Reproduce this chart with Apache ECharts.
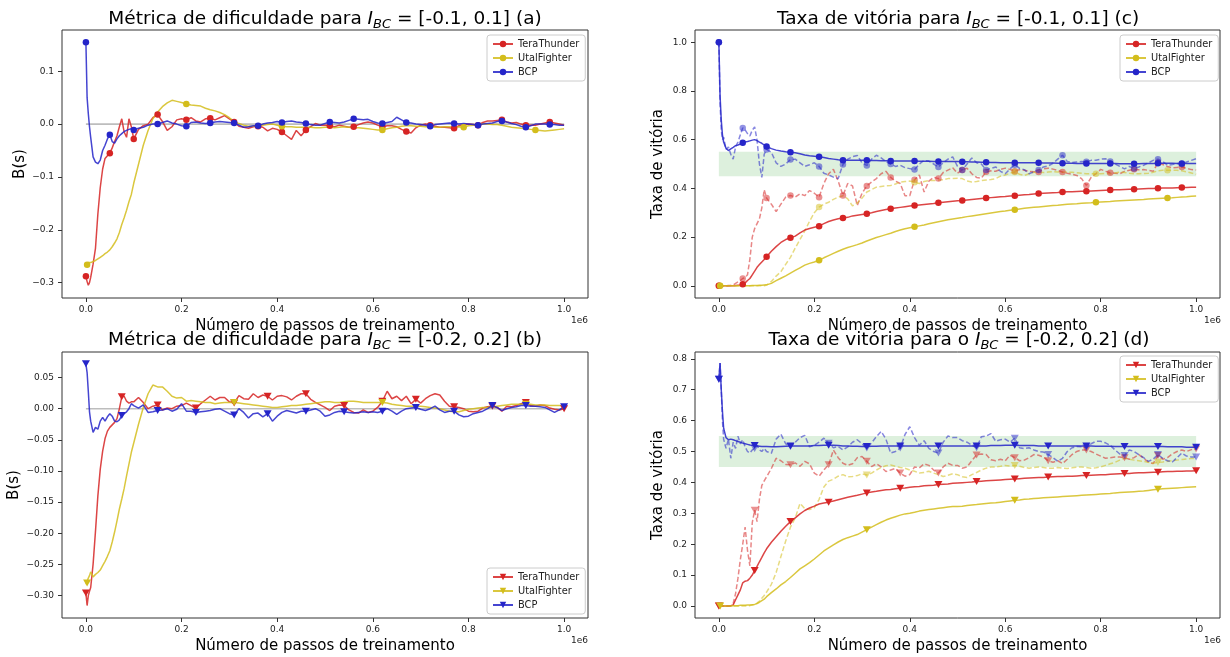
<!DOCTYPE html>
<html>
<head>
<meta charset="utf-8">
<script src="https://cdn.jsdelivr.net/npm/echarts@6/dist/echarts.min.js"></script>
<style>
  html, body { margin: 0; padding: 0; background: #ffffff; }
  #chart { width: 1230px; height: 657px; }
</style>
</head>
<body>
<div id="chart"></div>
<script>
// Training steps (in units of 1e6) at which every curve is sampled
const XS = [
  0, 0.0025, 0.005, 0.0075,
  0.01, 0.015, 0.02, 0.025, 0.03, 0.035, 0.04, 0.045, 0.05, 0.055, 0.06, 0.065, 0.07, 0.075, 0.08, 0.085, 0.09, 0.095,
  0.10, 0.11, 0.12, 0.13, 0.14, 0.15, 0.16, 0.17, 0.18, 0.19,
  0.20, 0.21, 0.22, 0.23, 0.24, 0.25, 0.26, 0.27, 0.28, 0.29,
  0.30, 0.31, 0.32, 0.33, 0.34, 0.35, 0.36, 0.37, 0.38, 0.39,
  0.40, 0.41, 0.42, 0.43, 0.44, 0.45, 0.46, 0.47, 0.48, 0.49,
  0.50, 0.51, 0.52, 0.53, 0.54, 0.55, 0.56, 0.57, 0.58, 0.59,
  0.60, 0.61, 0.62, 0.63, 0.64, 0.65, 0.66, 0.67, 0.68, 0.69,
  0.70, 0.71, 0.72, 0.73, 0.74, 0.75, 0.76, 0.77, 0.78, 0.79,
  0.80, 0.81, 0.82, 0.83, 0.84, 0.85, 0.86, 0.87, 0.88, 0.89,
  0.90, 0.91, 0.92, 0.93, 0.94, 0.95, 0.96, 0.97, 0.98, 0.99,
  1.00
];

// (a) difficulty metric B(s), I_BC = [-0.1, 0.1]
const aTera = [
  -0.288, -0.298, -0.305, -0.300,
  -0.290, -0.265, -0.235, -0.170, -0.120, -0.085, -0.065, -0.060, -0.055, -0.045, -0.033, -0.022, -0.005, 0.010, -0.015, -0.025, 0.010, -0.005,
  -0.028, -0.010, -0.003, 0.000, 0.012, 0.018, 0.005, -0.012, -0.005, 0.008,
  0.010, 0.008, 0.012, 0.006, 0.004, 0.010, 0.011, 0.008, 0.012, 0.016,
  0.010, 0.004, -0.004, -0.006, -0.008, -0.005, -0.004, -0.006, -0.013, -0.008,
  -0.010, -0.015, -0.022, -0.029, -0.012, -0.022, -0.011, -0.005, 0.001, -0.002,
  -0.002, -0.003, -0.005, -0.002, -0.004, -0.006, -0.005, -0.001, 0.002, 0.004,
  0.002, -0.002, -0.005, -0.003, -0.003, -0.005, -0.010, -0.014, -0.017, -0.007,
  -0.002, 0.000, -0.002, -0.004, -0.006, -0.006, -0.007, -0.008, -0.003, -0.001,
  0.000, -0.001, -0.002, 0.003, 0.006, 0.006, 0.007, 0.008, 0.004, 0.002,
  0.003, 0.000, -0.002, -0.002, -0.002, 0.000, 0.002, 0.004, 0.002, 0.000,
  -0.002
];
const aUtal = [
  -0.270, -0.266, -0.262, -0.264,
  -0.262, -0.260, -0.258, -0.255, -0.252, -0.249, -0.245, -0.242, -0.238, -0.232, -0.225, -0.217, -0.205, -0.190, -0.177, -0.163, -0.147, -0.133,
  -0.112, -0.076, -0.040, -0.012, 0.010, 0.023, 0.033, 0.040, 0.045, 0.043,
  0.041, 0.038, 0.036, 0.035, 0.034, 0.030, 0.027, 0.025, 0.022, 0.018,
  0.012, 0.005, 0.001, -0.002, -0.004, -0.004, -0.003, -0.002, -0.001, 0.000,
  -0.002, -0.004, -0.005, -0.005, -0.006, -0.006, -0.006, -0.006, -0.007, -0.007,
  -0.006, -0.006, -0.007, -0.006, -0.005, -0.006, -0.007, -0.007, -0.008, -0.009,
  -0.010, -0.011, -0.011, -0.009, -0.007, -0.006, -0.004, -0.003, -0.003, -0.004,
  -0.004, -0.005, -0.005, -0.006, -0.006, -0.005, -0.005, -0.006, -0.005, -0.006,
  -0.003, -0.002, -0.001, 0.000, 0.000, -0.001, -0.001, -0.002, -0.004, -0.006,
  -0.007, -0.008, -0.009, -0.010, -0.011, -0.012, -0.013, -0.012, -0.011, -0.010,
  -0.009
];
const aBCP = [
  0.155, 0.050, 0.020, -0.005,
  -0.025, -0.062, -0.072, -0.075, -0.068, -0.050, -0.040, -0.028, -0.020, -0.033, -0.036, -0.028, -0.022, -0.018, -0.014, -0.012, -0.010, -0.009,
  -0.011, -0.008, -0.006, -0.002, 0.000, 0.000, 0.003, 0.006, 0.002, 0.000,
  -0.003, -0.004, 0.003, 0.004, 0.002, 0.001, 0.002, 0.004, 0.005, 0.004,
  0.003, 0.002, -0.002, -0.006, -0.005, -0.003, -0.003, 0.000, 0.002, 0.003,
  0.005, 0.003, 0.005, 0.006, 0.004, 0.003, 0.001, -0.001, -0.002, -0.002,
  0.001, 0.004, 0.003, 0.002, 0.004, 0.007, 0.010, 0.009, 0.008, 0.009,
  0.005, 0.002, 0.001, 0.003, 0.005, 0.013, 0.008, 0.003, 0.002, 0.000,
  -0.001, -0.002, -0.004, -0.001, 0.000, 0.001, 0.002, 0.001, 0.000, 0.001,
  0.000, -0.001, -0.002, 0.000, 0.001, 0.002, 0.005, 0.006, 0.004, 0.001,
  -0.001, -0.004, -0.006, -0.003, 0.000, 0.000, 0.000, -0.001, -0.001, -0.002,
  -0.002
];

// (b) difficulty metric B(s), I_BC = [-0.2, 0.2]
const bTera = [
  -0.296, -0.316, -0.300, -0.293,
  -0.287, -0.250, -0.197, -0.140, -0.097, -0.068, -0.048, -0.036, -0.030, -0.026, -0.022, -0.016, 0.000, 0.019, 0.020, 0.012, 0.009, 0.011,
  0.011, 0.018, 0.010, 0.000, 0.004, 0.006, -0.002, 0.001, 0.000, 0.004,
  0.005, 0.009, 0.005, 0.001, 0.008, 0.014, 0.020, 0.014, 0.018, 0.018,
  0.011, 0.009, 0.021, 0.016, 0.015, 0.024, 0.018, 0.022, 0.020, 0.014,
  0.020, 0.021, 0.019, 0.014, 0.020, 0.024, 0.024, 0.015, 0.010, 0.006,
  0.002, -0.003, 0.004, 0.006, 0.005, -0.002, -0.006, -0.007, -0.002, -0.006,
  -0.004, 0.002, 0.012, 0.028, 0.016, 0.020, 0.013, 0.020, 0.008, 0.015,
  0.009, 0.016, 0.021, 0.024, 0.022, 0.012, 0.004, 0.003, 0.002, 0.000,
  -0.004, -0.005, -0.004, 0.001, 0.003, 0.004, 0.002, -0.004, 0.004, 0.003,
  0.005, 0.008, 0.010, 0.005, 0.004, 0.006, 0.005, 0.001, -0.001, -0.002,
  0.000
];
const bUtal = [
  -0.282, -0.280, -0.272, -0.268,
  -0.262, -0.270, -0.266, -0.263, -0.259, -0.252, -0.245, -0.237, -0.228, -0.214, -0.198, -0.180, -0.161, -0.145, -0.128, -0.108, -0.089, -0.070,
  -0.055, -0.025, 0.002, 0.024, 0.038, 0.035, 0.035, 0.028, 0.020, 0.017,
  0.018, 0.012, 0.013, 0.012, 0.011, 0.010, 0.010, 0.008, 0.009, 0.010,
  0.010, 0.010, 0.009, 0.008, 0.007, 0.006, 0.005, 0.004, 0.003, 0.002,
  0.002, 0.003, 0.004, 0.005, 0.005, 0.006, 0.007, 0.008, 0.009, 0.010,
  0.011, 0.011, 0.010, 0.010, 0.011, 0.012, 0.012, 0.011, 0.010, 0.010,
  0.010, 0.010, 0.010, 0.009, 0.007, 0.006, 0.005, 0.004, 0.004, 0.004,
  0.004, 0.003, 0.002, 0.001, 0.000, -0.002, -0.004, -0.005, -0.005, -0.003,
  -0.001, 0.000, 0.001, 0.002, 0.002, 0.003, 0.004, 0.005, 0.006, 0.007,
  0.007, 0.007, 0.007, 0.007, 0.006, 0.006, 0.006, 0.005, 0.005, 0.005,
  0.005
];
const bBCP = [
  0.072, 0.058, 0.028, -0.005,
  -0.020, -0.038, -0.030, -0.033, -0.020, -0.014, -0.020, -0.013, -0.008, -0.012, -0.020, -0.021, -0.018, -0.011, -0.008, -0.005, 0.000, 0.008,
  0.005, 0.001, 0.006, -0.006, -0.005, -0.003, -0.002, 0.000, -0.004, -0.001,
  0.008, -0.004, -0.004, -0.006, -0.005, -0.004, -0.003, -0.001, 0.000, -0.004,
  -0.008, -0.010, 0.000, -0.006, -0.015, -0.008, -0.007, -0.013, -0.008, -0.020,
  -0.012, -0.006, -0.003, -0.005, -0.007, -0.004, -0.004, -0.002, 0.000, -0.004,
  -0.012, -0.010, -0.006, -0.004, -0.005, -0.006, -0.007, -0.006, -0.005, -0.006,
  -0.005, -0.006, -0.004, 0.000, -0.004, -0.009, -0.004, 0.000, 0.001, 0.002,
  -0.001, -0.003, 0.000, 0.004, -0.002, -0.006, -0.004, -0.004, -0.010, -0.013,
  -0.012, -0.008, -0.006, -0.004, 0.000, 0.005, 0.002, -0.003, 0.000, 0.002,
  0.003, 0.005, 0.005, 0.004, 0.004, 0.003, 0.002, -0.002, -0.006, -0.002,
  0.003
];

// (c) win rate, I_BC = [-0.1, 0.1]: cumulative (solid) and rolling (dashed)
const cTera = [
  0.000, 0.000, 0.000, 0.000,
  0.000, 0.000, 0.000, 0.000, 0.000, 0.001, 0.002, 0.003, 0.006, 0.012, 0.022, 0.030, 0.045, 0.060, 0.076, 0.087, 0.098, 0.108,
  0.119, 0.142, 0.161, 0.178, 0.190, 0.197, 0.204, 0.217, 0.229, 0.235,
  0.240, 0.245, 0.255, 0.264, 0.270, 0.275, 0.278, 0.281, 0.287, 0.290,
  0.293, 0.296, 0.300, 0.305, 0.309, 0.313, 0.316, 0.319, 0.322, 0.325,
  0.328, 0.330, 0.332, 0.334, 0.336, 0.338, 0.341, 0.343, 0.345, 0.347,
  0.349, 0.350, 0.352, 0.354, 0.356, 0.358, 0.360, 0.362, 0.364, 0.366,
  0.367, 0.369, 0.370, 0.372, 0.374, 0.375, 0.377, 0.379, 0.380, 0.381,
  0.382, 0.383, 0.385, 0.386, 0.386, 0.387, 0.388, 0.388, 0.389, 0.390,
  0.391, 0.392, 0.393, 0.394, 0.394, 0.395, 0.396, 0.396, 0.397, 0.398,
  0.399, 0.399, 0.400, 0.401, 0.402, 0.402, 0.403, 0.404, 0.404, 0.405,
  0.405
];
const cUtal = [
  0.000, 0.000, 0.000, 0.000,
  0.000, 0.000, 0.000, 0.000, 0.000, 0.000, 0.000, 0.000, 0.000, 0.000, 0.000, 0.000, 0.001, 0.001, 0.001, 0.002, 0.002, 0.003,
  0.004, 0.010, 0.021, 0.031, 0.041, 0.052, 0.063, 0.074, 0.085, 0.092,
  0.098, 0.105, 0.115, 0.124, 0.133, 0.142, 0.150, 0.157, 0.163, 0.169,
  0.176, 0.184, 0.191, 0.198, 0.204, 0.210, 0.216, 0.223, 0.229, 0.234,
  0.238, 0.242, 0.246, 0.250, 0.255, 0.259, 0.263, 0.267, 0.271, 0.274,
  0.277, 0.280, 0.284, 0.287, 0.290, 0.293, 0.296, 0.299, 0.302, 0.305,
  0.307, 0.310, 0.312, 0.315, 0.318, 0.320, 0.322, 0.324, 0.326, 0.328,
  0.330, 0.331, 0.333, 0.335, 0.336, 0.337, 0.339, 0.340, 0.341, 0.343,
  0.344, 0.345, 0.346, 0.348, 0.349, 0.350, 0.351, 0.352, 0.353, 0.354,
  0.356, 0.357, 0.358, 0.359, 0.360, 0.361, 0.363, 0.365, 0.366, 0.368,
  0.369
];
const cBCP = [
  1.000, 0.780, 0.680, 0.620,
  0.590, 0.565, 0.555, 0.562, 0.568, 0.575, 0.578, 0.582, 0.587, 0.590, 0.592, 0.595, 0.598, 0.600, 0.596, 0.590, 0.585, 0.578,
  0.572, 0.563, 0.557, 0.553, 0.550, 0.548, 0.546, 0.542, 0.537, 0.534,
  0.532, 0.530, 0.527, 0.523, 0.520, 0.517, 0.515, 0.515, 0.515, 0.515,
  0.515, 0.515, 0.514, 0.514, 0.513, 0.513, 0.512, 0.512, 0.512, 0.512,
  0.512, 0.512, 0.511, 0.511, 0.511, 0.510, 0.510, 0.510, 0.510, 0.510,
  0.510, 0.509, 0.509, 0.508, 0.508, 0.507, 0.507, 0.506, 0.506, 0.505,
  0.505, 0.505, 0.505, 0.505, 0.505, 0.505, 0.505, 0.505, 0.504, 0.504,
  0.504, 0.503, 0.503, 0.503, 0.503, 0.502, 0.502, 0.502, 0.502, 0.502,
  0.502, 0.502, 0.502, 0.502, 0.501, 0.501, 0.501, 0.501, 0.501, 0.502,
  0.502, 0.502, 0.503, 0.503, 0.503, 0.503, 0.502, 0.502, 0.502, 0.502,
  0.502
];
const cTeraRoll = [
  0.000, 0.000, 0.000, 0.000,
  0.000, 0.000, 0.001, 0.002, 0.004, 0.010, 0.016, 0.022, 0.030, 0.034, 0.045, 0.110, 0.200, 0.235, 0.255, 0.275, 0.320, 0.395,
  0.360, 0.335, 0.305, 0.335, 0.364, 0.371, 0.364, 0.378, 0.370, 0.391,
  0.380, 0.364, 0.420, 0.460, 0.478, 0.430, 0.371, 0.420, 0.410, 0.330,
  0.380, 0.410, 0.426, 0.440, 0.460, 0.470, 0.445, 0.430, 0.420, 0.370,
  0.370, 0.435, 0.455, 0.385, 0.430, 0.445, 0.440, 0.465, 0.475, 0.485,
  0.462, 0.475, 0.483, 0.460, 0.445, 0.442, 0.468, 0.472, 0.470, 0.478,
  0.483, 0.478, 0.470, 0.477, 0.474, 0.470, 0.468, 0.467, 0.480, 0.483,
  0.479, 0.474, 0.467, 0.462, 0.458, 0.453, 0.440, 0.412, 0.445, 0.460,
  0.478, 0.470, 0.464, 0.462, 0.460, 0.470, 0.474, 0.478, 0.476, 0.477,
  0.474, 0.470, 0.505, 0.498, 0.490, 0.484, 0.486, 0.488, 0.482, 0.477,
  0.475
];
const cUtalRoll = [
  0.000, 0.000, 0.000, 0.000,
  0.000, 0.000, 0.000, 0.000, 0.000, 0.000, 0.000, 0.000, 0.000, 0.000, 0.000, 0.000, 0.000, 0.000, 0.000, 0.000, 0.000, 0.000,
  0.003, 0.018, 0.040, 0.058, 0.088, 0.117, 0.155, 0.190, 0.225, 0.265,
  0.300, 0.323, 0.335, 0.343, 0.355, 0.364, 0.370, 0.357, 0.328, 0.340,
  0.360, 0.385, 0.395, 0.405, 0.408, 0.410, 0.412, 0.418, 0.426, 0.428,
  0.430, 0.425, 0.420, 0.428, 0.432, 0.432, 0.434, 0.435, 0.440, 0.440,
  0.442, 0.440, 0.430, 0.426, 0.428, 0.432, 0.434, 0.436, 0.440, 0.450,
  0.455, 0.462, 0.467, 0.458, 0.453, 0.460, 0.466, 0.467, 0.465, 0.467,
  0.468, 0.467, 0.466, 0.467, 0.466, 0.464, 0.462, 0.460, 0.460, 0.460,
  0.460, 0.461, 0.460, 0.463, 0.467, 0.465, 0.462, 0.460, 0.460, 0.461,
  0.462, 0.466, 0.472, 0.474, 0.474, 0.475, 0.474, 0.472, 0.468, 0.463,
  0.458
];
const cBCPRoll = [
  1.000, 0.750, 0.640, 0.600,
  0.610, 0.560, 0.570, 0.540, 0.520, 0.570, 0.590, 0.620, 0.648, 0.640, 0.625, 0.615, 0.639, 0.652, 0.598, 0.500, 0.445, 0.540,
  0.560, 0.548, 0.505, 0.490, 0.500, 0.518, 0.520, 0.505, 0.490, 0.497,
  0.505, 0.490, 0.462, 0.455, 0.446, 0.440, 0.498, 0.520, 0.530, 0.535,
  0.505, 0.494, 0.520, 0.536, 0.525, 0.510, 0.500, 0.490, 0.495, 0.485,
  0.481, 0.477, 0.500, 0.515, 0.512, 0.500, 0.488, 0.505, 0.520, 0.529,
  0.490, 0.475, 0.500, 0.525, 0.505, 0.500, 0.475, 0.482, 0.488, 0.470,
  0.460, 0.480, 0.497, 0.482, 0.477, 0.460, 0.468, 0.475, 0.488, 0.492,
  0.503, 0.520, 0.536, 0.510, 0.506, 0.508, 0.510, 0.509, 0.515, 0.515,
  0.520, 0.522, 0.510, 0.500, 0.490, 0.480, 0.490, 0.482, 0.488, 0.495,
  0.505, 0.515, 0.520, 0.510, 0.495, 0.498, 0.502, 0.500, 0.508, 0.515,
  0.522
];

// (d) win rate, I_BC = [-0.2, 0.2]: cumulative (solid) and rolling (dashed)
const dTera = [
  0.000, 0.000, 0.000, 0.000,
  0.000, 0.000, 0.000, 0.001, 0.003, 0.020, 0.036, 0.052, 0.075, 0.080, 0.082, 0.090, 0.100, 0.115, 0.128, 0.143, 0.157, 0.172,
  0.185, 0.206, 0.224, 0.242, 0.258, 0.273, 0.285, 0.298, 0.309, 0.317,
  0.323, 0.330, 0.333, 0.336, 0.340, 0.344, 0.348, 0.352, 0.355, 0.358,
  0.362, 0.366, 0.369, 0.371, 0.374, 0.376, 0.377, 0.379, 0.381, 0.382,
  0.384, 0.386, 0.387, 0.389, 0.390, 0.391, 0.393, 0.394, 0.395, 0.397,
  0.398, 0.399, 0.400, 0.401, 0.403, 0.404, 0.405, 0.406, 0.407, 0.408,
  0.409, 0.410, 0.411, 0.412, 0.413, 0.414, 0.415, 0.416, 0.416, 0.417,
  0.418, 0.419, 0.419, 0.420, 0.420, 0.421, 0.422, 0.422, 0.423, 0.424,
  0.425, 0.425, 0.426, 0.427, 0.428, 0.429, 0.429, 0.430, 0.431, 0.431,
  0.432, 0.433, 0.433, 0.434, 0.435, 0.435, 0.436, 0.436, 0.437, 0.437,
  0.438
];
const dUtal = [
  0.000, 0.000, 0.000, 0.000,
  0.000, 0.000, 0.000, 0.000, 0.001, 0.001, 0.001, 0.002, 0.002, 0.002, 0.003, 0.003, 0.004, 0.005, 0.008, 0.012, 0.017, 0.022,
  0.030, 0.043, 0.055, 0.068, 0.079, 0.092, 0.106, 0.120, 0.130, 0.140,
  0.152, 0.165, 0.178, 0.188, 0.198, 0.207, 0.215, 0.221, 0.226, 0.231,
  0.239, 0.247, 0.255, 0.263, 0.271, 0.278, 0.284, 0.289, 0.294, 0.298,
  0.300, 0.303, 0.307, 0.310, 0.312, 0.314, 0.316, 0.318, 0.320, 0.322,
  0.322, 0.323, 0.325, 0.327, 0.328, 0.330, 0.332, 0.333, 0.334, 0.336,
  0.338, 0.340, 0.342, 0.343, 0.345, 0.346, 0.348, 0.349, 0.350, 0.351,
  0.352, 0.353, 0.354, 0.355, 0.356, 0.357, 0.358, 0.359, 0.360, 0.361,
  0.362, 0.363, 0.364, 0.366, 0.367, 0.368, 0.369, 0.370, 0.371, 0.372,
  0.374, 0.376, 0.378, 0.379, 0.380, 0.381, 0.382, 0.383, 0.384, 0.385,
  0.386
];
const dBCP = [
  0.734, 0.786, 0.700, 0.630,
  0.575, 0.545, 0.538, 0.540, 0.538, 0.535, 0.532, 0.530, 0.527, 0.525, 0.523, 0.521, 0.520, 0.519, 0.518, 0.517, 0.516, 0.516,
  0.516, 0.515, 0.515, 0.516, 0.517, 0.518, 0.518, 0.518, 0.518, 0.518,
  0.519, 0.519, 0.520, 0.520, 0.520, 0.519, 0.518, 0.518, 0.517, 0.517,
  0.516, 0.516, 0.517, 0.517, 0.518, 0.518, 0.518, 0.518, 0.518, 0.518,
  0.518, 0.518, 0.518, 0.518, 0.518, 0.518, 0.518, 0.518, 0.518, 0.518,
  0.518, 0.518, 0.518, 0.518, 0.518, 0.518, 0.518, 0.519, 0.519, 0.519,
  0.520, 0.520, 0.520, 0.519, 0.519, 0.519, 0.519, 0.518, 0.518, 0.518,
  0.518, 0.518, 0.518, 0.518, 0.518, 0.518, 0.518, 0.518, 0.518, 0.517,
  0.517, 0.517, 0.517, 0.516, 0.516, 0.516, 0.516, 0.516, 0.516, 0.516,
  0.516, 0.516, 0.516, 0.516, 0.515, 0.515, 0.515, 0.515, 0.514, 0.514,
  0.514
];
const dTeraRoll = [
  0.000, 0.000, 0.000, 0.000,
  0.000, 0.000, 0.000, 0.000, 0.008, 0.040, 0.090, 0.150, 0.200, 0.255, 0.180, 0.130, 0.270, 0.310, 0.273, 0.345, 0.390, 0.405,
  0.418, 0.445, 0.478, 0.470, 0.458, 0.457, 0.463, 0.452, 0.468, 0.460,
  0.430, 0.420, 0.440, 0.457, 0.505, 0.480, 0.462, 0.455, 0.460, 0.480,
  0.484, 0.468, 0.451, 0.460, 0.450, 0.435, 0.440, 0.445, 0.430, 0.420,
  0.425, 0.450, 0.447, 0.460, 0.455, 0.440, 0.430, 0.450, 0.462, 0.455,
  0.455, 0.446, 0.450, 0.470, 0.489, 0.492, 0.490, 0.473, 0.470, 0.475,
  0.470, 0.488, 0.480, 0.470, 0.472, 0.480, 0.490, 0.488, 0.482, 0.470,
  0.465, 0.470, 0.461, 0.475, 0.490, 0.500, 0.505, 0.505, 0.500, 0.492,
  0.485, 0.478, 0.480, 0.482, 0.482, 0.480, 0.475, 0.480, 0.490, 0.478,
  0.465, 0.461, 0.487, 0.475, 0.480, 0.492, 0.500, 0.505, 0.500, 0.506,
  0.508
];
const dUtalRoll = [
  0.000, 0.000, 0.000, 0.000,
  0.000, 0.000, 0.000, 0.000, 0.000, 0.000, 0.000, 0.000, 0.000, 0.000, 0.000, 0.001, 0.003, 0.006, 0.009, 0.016, 0.025, 0.034,
  0.045, 0.070, 0.108, 0.160, 0.210, 0.255, 0.285, 0.332, 0.315, 0.312,
  0.318, 0.345, 0.385, 0.404, 0.410, 0.420, 0.425, 0.418, 0.419, 0.422,
  0.428, 0.424, 0.430, 0.440, 0.448, 0.454, 0.456, 0.452, 0.448, 0.446,
  0.440, 0.436, 0.430, 0.432, 0.436, 0.430, 0.425, 0.419, 0.423, 0.428,
  0.425, 0.418, 0.416, 0.425, 0.432, 0.440, 0.446, 0.450, 0.450, 0.452,
  0.455, 0.453, 0.455, 0.452, 0.448, 0.446, 0.448, 0.450, 0.448, 0.446,
  0.446, 0.448, 0.446, 0.445, 0.447, 0.449, 0.450, 0.448, 0.446, 0.447,
  0.450, 0.455, 0.460, 0.465, 0.472, 0.478, 0.475, 0.472, 0.470, 0.468,
  0.465, 0.462, 0.465, 0.466, 0.468, 0.470, 0.472, 0.474, 0.476, 0.477,
  0.478
];
const dBCPRoll = [
  0.734, 0.786, 0.700, 0.600,
  0.540, 0.510, 0.540, 0.478, 0.530, 0.510, 0.549, 0.525, 0.538, 0.515, 0.500, 0.495, 0.505, 0.510, 0.520, 0.505, 0.500, 0.510,
  0.500, 0.494, 0.540, 0.556, 0.525, 0.516, 0.530, 0.545, 0.552, 0.515,
  0.520, 0.530, 0.543, 0.527, 0.512, 0.516, 0.505, 0.515, 0.530, 0.538,
  0.525, 0.511, 0.528, 0.548, 0.565, 0.540, 0.495, 0.500, 0.511, 0.555,
  0.580, 0.545, 0.520, 0.535, 0.510, 0.500, 0.495, 0.530, 0.550, 0.545,
  0.545, 0.535, 0.530, 0.520, 0.512, 0.548, 0.550, 0.558, 0.533, 0.538,
  0.540, 0.530, 0.543, 0.512, 0.509, 0.512, 0.505, 0.500, 0.498, 0.490,
  0.480, 0.468, 0.478, 0.500, 0.512, 0.516, 0.515, 0.512, 0.525, 0.533,
  0.533, 0.528, 0.520, 0.505, 0.492, 0.487, 0.505, 0.500, 0.490, 0.480,
  0.468, 0.475, 0.490, 0.478, 0.470, 0.466, 0.480, 0.495, 0.485, 0.482,
  0.482
];

// Marker positions along each curve
const MARKS_19 = [0, 0.0513, 0.1026, 0.1538, 0.2051, 0.2564, 0.3077, 0.359, 0.4103, 0.4615,
                  0.5128, 0.5641, 0.6154, 0.6667, 0.7179, 0.7692, 0.8205, 0.8718, 0.9231, 0.9744];
const MARKS_19_UTAL = [0.0025, 0.21, 0.414, 0.616, 0.787, 0.943];
const MARKS_13 = [0, 0.0769, 0.1538, 0.2308, 0.3077, 0.3846, 0.4615, 0.5385, 0.6154, 0.6923, 0.7692, 0.8462, 0.9231, 1.0];
const MARKS_13_UTAL = [0.0025, 0.3077, 0.6154, 0.9231];

// Axis ticks and reference shapes
const X_TICKS = [0, 0.2, 0.4, 0.6, 0.8, 1.0];
const Y_TICKS_A = [-0.3, -0.2, -0.1, 0, 0.1];
const Y_TICKS_B = [-0.3, -0.25, -0.2, -0.15, -0.1, -0.05, 0, 0.05];
const Y_TICKS_C = [0, 0.2, 0.4, 0.6, 0.8, 1.0];
const Y_TICKS_D = [0, 0.1, 0.2, 0.3, 0.4, 0.5, 0.6, 0.7, 0.8];
const AGENTS = ['TeraThunder', 'UtalFighter', 'BCP'];
const TARGET_BAND = [0.45, 0.55];
const STEP_SPAN = [0, 1.0];

const FONT = 'DejaVu Sans';
const RED = '#d62424', YELLOW = '#d3bd1c', BLUE = '#2525c9';
const CIRCLE = 'circle';
const TRI_DOWN = 'path://M0,0L10,0L5,9Z';

function nearestIndex(x) {
  let best = 0;
  for (let i = 1; i < XS.length; i++) {
    if (Math.abs(XS[i] - x) < Math.abs(XS[best] - x)) best = i;
  }
  return best;
}

function makeData(ys, marks) {
  const marked = new Set(marks.map(nearestIndex));
  return XS.map((x, i) => marked.has(i) ? [x, ys[i]] : { value: [x, ys[i]], symbol: 'none' });
}

function curve(panel, agent, ys, color, marks, symbol, gi, rolling) {
  return {
    type: 'line',
    name: rolling ? agent + '|' + panel + '|roll' : agent + '|' + panel,
    xAxisIndex: gi, yAxisIndex: gi,
    data: makeData(ys, marks),
    symbol: symbol,
    symbolSize: symbol === CIRCLE ? 6.5 : [8, 7],
    showAllSymbol: true,
    lineStyle: { color: color, width: 1.5, type: rolling ? [5, 2.5] : 'solid', opacity: rolling ? 0.55 : 0.85 },
    itemStyle: { color: color, opacity: rolling ? 0.5 : 1 },
    z: rolling ? 3 : 4,
    silent: true, animation: false, clip: true
  };
}

function fmt(decimals) {
  return v => {
    if (Math.abs(v) < 1e-9) return (0).toFixed(decimals);
    return (v < 0 ? '\u2212' : '') + Math.abs(v).toFixed(decimals);
  };
}

function xAxisFor(gi) {
  return {
    type: 'value', gridIndex: gi, min: -0.05, max: 1.05,
    name: 'Número de passos de treinamento', nameLocation: 'middle', nameGap: 21,
    nameTextStyle: { fontSize: 15, color: '#000', fontFamily: FONT },
    axisLine: { show: false, onZero: false }, splitLine: { show: false },
    axisTick: { show: true, length: 4, lineStyle: { color: '#333' }, customValues: X_TICKS },
    axisLabel: { fontSize: 9, color: '#222', fontFamily: FONT, margin: 7, customValues: X_TICKS, formatter: fmt(1) }
  };
}

function yAxisFor(gi, min, max, ticks, decimals, name, gap) {
  return {
    type: 'value', gridIndex: gi, min: min, max: max,
    name: name, nameLocation: 'middle', nameGap: gap, nameRotate: 90,
    nameTextStyle: { fontSize: 15, color: '#000', fontFamily: FONT },
    axisLine: { show: false, onZero: false }, splitLine: { show: false },
    axisTick: { show: true, length: 4, lineStyle: { color: '#333' }, customValues: ticks },
    axisLabel: { fontSize: 9, color: '#222', fontFamily: FONT, margin: 8, customValues: ticks, formatter: fmt(decimals) }
  };
}

function legendFor(panel, left, top) {
  return {
    orient: 'vertical', left: left, top: top,
    data: AGENTS.map(a => a + '|' + panel),
    formatter: n => n.split('|')[0],
    itemWidth: 20, itemHeight: 8, itemGap: 4,
    padding: [4, 6, 4, 5],
    backgroundColor: 'rgba(255,255,255,0.8)', borderColor: '#cccccc', borderWidth: 1, borderRadius: 3,
    textStyle: { fontSize: 9.8, color: '#222', fontFamily: FONT },
    selectedMode: false
  };
}

function titleText(x, y, before, after) {
  return {
    type: 'text', x: x, y: y, silent: true,
    style: {
      text: before + '{i|I}{s|BC}' + after,
      fontFamily: FONT, fontSize: 18.5, lineHeight: 24, fill: '#000',
      align: 'center', verticalAlign: 'middle',
      rich: {
        i: { fontStyle: 'italic', fontFamily: FONT, fontSize: 18.5, lineHeight: 24, fill: '#000' },
        s: { fontStyle: 'italic', fontFamily: FONT, fontSize: 13, lineHeight: 14, verticalAlign: 'bottom', fill: '#000' }
      }
    }
  };
}

function offsetText(x, y) {
  return {
    type: 'text', x: x, y: y, silent: true,
    style: { text: '1e6', fontFamily: FONT, fontSize: 9, fill: '#222', align: 'right', verticalAlign: 'middle' }
  };
}

const gridBase = { show: true, borderColor: '#333', borderWidth: 1, backgroundColor: 'transparent', containLabel: false, outerBoundsMode: 'none' };
const grids = [
  Object.assign({ left: 62, top: 30, width: 526, height: 268 }, gridBase),   // (a)
  Object.assign({ left: 695, top: 30, width: 525, height: 268 }, gridBase),  // (c)
  Object.assign({ left: 62, top: 352, width: 526, height: 266 }, gridBase),  // (b)
  Object.assign({ left: 695, top: 352, width: 525, height: 266 }, gridBase)  // (d)
];

const zeroLine = gi => ({
  type: 'line', xAxisIndex: gi, yAxisIndex: gi,
  data: STEP_SPAN.map(x => [x, 0]),
  symbol: 'none', lineStyle: { color: '#bdbdbd', width: 1.6 },
  z: 2, silent: true, animation: false
});

const bandArea = gi => ({
  type: 'line', xAxisIndex: gi, yAxisIndex: gi, data: [],
  z: 1, silent: true, animation: false,
  markArea: {
    silent: true,
    itemStyle: { color: 'rgba(44,160,44,0.16)' },
    data: [[{ coord: [STEP_SPAN[0], TARGET_BAND[0]] }, { coord: [STEP_SPAN[1], TARGET_BAND[1]] }]]
  }
});

const series = [
  zeroLine(0),
  curve('a', 'TeraThunder', aTera, RED, MARKS_19, CIRCLE, 0, false),
  curve('a', 'UtalFighter', aUtal, YELLOW, MARKS_19_UTAL, CIRCLE, 0, false),
  curve('a', 'BCP', aBCP, BLUE, MARKS_19, CIRCLE, 0, false),

  bandArea(1),
  curve('c', 'TeraThunder', cTera, RED, MARKS_19, CIRCLE, 1, false),
  curve('c', 'TeraThunder', cTeraRoll, RED, MARKS_19, CIRCLE, 1, true),
  curve('c', 'UtalFighter', cUtal, YELLOW, MARKS_19_UTAL, CIRCLE, 1, false),
  curve('c', 'UtalFighter', cUtalRoll, YELLOW, MARKS_19_UTAL, CIRCLE, 1, true),
  curve('c', 'BCP', cBCP, BLUE, MARKS_19, CIRCLE, 1, false),
  curve('c', 'BCP', cBCPRoll, BLUE, MARKS_19, CIRCLE, 1, true),

  zeroLine(2),
  curve('b', 'TeraThunder', bTera, RED, MARKS_13, TRI_DOWN, 2, false),
  curve('b', 'UtalFighter', bUtal, YELLOW, MARKS_13_UTAL, TRI_DOWN, 2, false),
  curve('b', 'BCP', bBCP, BLUE, MARKS_13, TRI_DOWN, 2, false),

  bandArea(3),
  curve('d', 'TeraThunder', dTera, RED, MARKS_13, TRI_DOWN, 3, false),
  curve('d', 'TeraThunder', dTeraRoll, RED, MARKS_13, TRI_DOWN, 3, true),
  curve('d', 'UtalFighter', dUtal, YELLOW, MARKS_13_UTAL, TRI_DOWN, 3, false),
  curve('d', 'UtalFighter', dUtalRoll, YELLOW, MARKS_13_UTAL, TRI_DOWN, 3, true),
  curve('d', 'BCP', dBCP, BLUE, MARKS_13, TRI_DOWN, 3, false),
  curve('d', 'BCP', dBCPRoll, BLUE, MARKS_13, TRI_DOWN, 3, true)
];

const option = {
  backgroundColor: '#ffffff',
  animation: false,
  textStyle: { fontFamily: FONT },
  grid: grids,
  xAxis: [xAxisFor(0), xAxisFor(1), xAxisFor(2), xAxisFor(3)],
  yAxis: [
    yAxisFor(0, -0.329, 0.178, Y_TICKS_A, 1, 'B(s)', 34),
    yAxisFor(1, -0.05, 1.05, Y_TICKS_C, 1, 'Taxa de vitória', 29),
    yAxisFor(2, -0.336, 0.091, Y_TICKS_B, 2, 'B(s)', 40),
    yAxisFor(3, -0.039, 0.822, Y_TICKS_D, 1, 'Taxa de vitória', 29)
  ],
  legend: [
    legendFor('a', 487, 35),
    legendFor('c', 1120, 35),
    legendFor('b', 487, 568),
    legendFor('d', 1120, 356)
  ],
  graphic: [
    titleText(325, 19, 'Métrica de dificuldade para ', ' = [-0.1, 0.1] (a)'),
    titleText(958, 19, 'Taxa de vitória para ', ' = [-0.1, 0.1] (c)'),
    titleText(325, 340, 'Métrica de dificuldade para ', ' = [-0.2, 0.2] (b)'),
    titleText(959, 340, 'Taxa de vitória para o ', ' = [-0.2, 0.2] (d)'),
    offsetText(588, 321),
    offsetText(1221, 321),
    offsetText(588, 641),
    offsetText(1221, 641)
  ],
  series: series
};

const chart = echarts.init(document.getElementById('chart'), null, { renderer: 'canvas' });
chart.setOption(option);
</script>
</body>
</html>
